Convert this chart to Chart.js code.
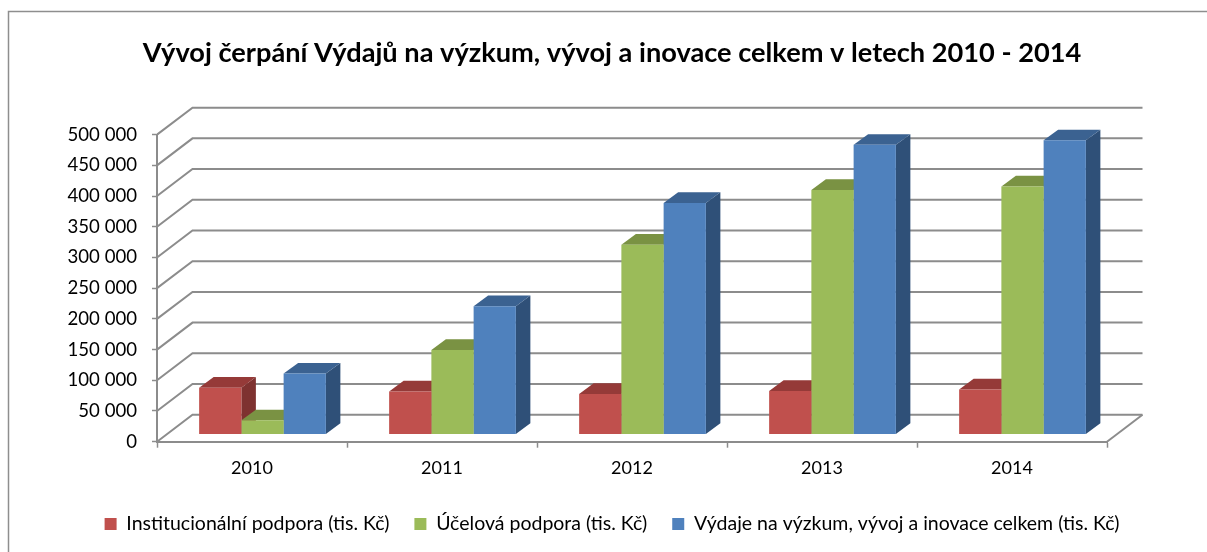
<!DOCTYPE html>
<html><head><meta charset="utf-8">
<style>html,body{margin:0;padding:0;background:#fff}canvas{display:block}</style>
<script src="https://cdn.jsdelivr.net/npm/chart.js@4"></script>
</head><body>
<div style="width:1207px;height:552px;position:relative"><canvas id="c" width="1207" height="552"></canvas></div>
<script>
const titleText = 'Vývoj čerpání Výdajů na výzkum, vývoj a inovace celkem v letech 2010 - 2014';
const categories = ['2010','2011','2012','2013','2014'];
const institucionalni = [76000,70000,65800,70700,73000];
const ucelova = [22900,137600,309000,398000,403700];
const celkem = [99000,208600,376700,471500,478800];
const seriesNames = ['Institucionální podpora (tis. Kč)','Účelová podpora (tis. Kč)','Výdaje na výzkum, vývoj a inovace celkem (tis. Kč)'];
const frontColors = ['#C0504D','#9BBB59','#4F81BD'];
const topColors = ['#953A38','#7A9243','#3B6291'];
const sideColors = ['#7E3230','#5F7A2E','#2F5078'];
const yTickLabels = ['0','50 000','100 000','150 000','200 000','250 000','300 000','350 000','400 000','450 000','500 000'];

const WALL = {dx:35.5, dy:-27};
const BAR = {dx:10.5, dy:-7.3};
const DEPTH = {dx:14.5, dy:-10.7};
const LINE = '#8C8C8C';

const wall3d = {
  id:'wall3d',
  beforeDraw(chart){
    const c = chart.ctx;
    c.save();
    c.strokeStyle='#8E8E8E'; c.lineWidth=1.5;
    c.beginPath();
    c.moveTo(8.5,552); c.lineTo(8.5,11.5); c.lineTo(1207,11.5);
    c.stroke();
    c.restore();
  },
  beforeDatasetsDraw(chart){
    const c = chart.ctx, y = chart.scales.y, a = chart.chartArea;
    c.save();
    c.strokeStyle=LINE; c.lineWidth=2;
    y.ticks.forEach(t=>{
      const p = y.getPixelForValue(t.value);
      c.beginPath();
      c.moveTo(a.left,p);
      c.lineTo(a.left+WALL.dx,p+WALL.dy);
      c.lineTo(a.right+WALL.dx,p+WALL.dy);
      c.stroke();
    });
    const b = y.getPixelForValue(0);
    c.beginPath();
    c.moveTo(a.right,b);
    c.lineTo(a.right+WALL.dx,b+WALL.dy);
    c.stroke();
    c.restore();

    c.save();
    c.translate(BAR.dx,BAR.dy);
    // side and top faces, left to right; the fronts go over them
    chart.getSortedVisibleDatasetMetas().forEach(meta=>{
      const i = meta.index;
      meta.data.forEach(el=>{
        const p = el.getProps(['x','y','base','width'],true);
        const l = p.x-p.width/2, r = p.x+p.width/2;
        c.fillStyle = sideColors[i];
        c.beginPath();
        c.moveTo(r,p.y); c.lineTo(r+DEPTH.dx,p.y+DEPTH.dy);
        c.lineTo(r+DEPTH.dx,p.base+DEPTH.dy); c.lineTo(r,p.base);
        c.closePath(); c.fill();
        c.fillStyle = topColors[i];
        c.beginPath();
        c.moveTo(l,p.y); c.lineTo(l+DEPTH.dx,p.y+DEPTH.dy);
        c.lineTo(r+DEPTH.dx,p.y+DEPTH.dy); c.lineTo(r,p.y);
        c.closePath(); c.fill();
      });
    });
  },
  afterDatasetsDraw(chart){ chart.ctx.restore(); }
};

const FONT = 'Lato, Carlito, Calibri, sans-serif';
new Chart(document.getElementById('c'),{
  type:'bar',
  plugins:[wall3d],
  data:{labels:categories,datasets:[institucionalni,ucelova,celkem].map((d,i)=>({
    label:seriesNames[i],data:d,backgroundColor:frontColors[i],borderWidth:0,
    categoryPercentage:0.667,barPercentage:1,clip:false
  }))},
  options:{
    responsive:false,animation:false,
    layout:{padding:{left:17,right:0,top:0,bottom:8.2}},
    plugins:{
      tooltip:{enabled:false},
      title:{display:true,text:titleText,color:'#000',font:{family:FONT,size:27.2,weight:'bold',lineHeight:1.2},padding:{top:37,bottom:65}},
      legend:{position:'bottom',labels:{color:'#000',font:{family:FONT,size:19.5},boxWidth:12,boxHeight:12,padding:25}}
    },
    scales:{
      x:{
        grid:{drawOnChartArea:false,drawTicks:true,tickLength:6,tickColor:LINE,tickWidth:1.5,offset:true},
        border:{color:LINE,width:2},
        ticks:{color:'#000',font:{family:FONT,size:18},padding:10,maxRotation:0}
      },
      y:{
        min:0,max:500000,
        afterFit(s){s.width=140;},
        grid:{drawOnChartArea:false,tickLength:5,tickColor:LINE,tickWidth:1.5},
        border:{color:LINE,width:2},
        ticks:{stepSize:50000,color:'#000',font:{family:FONT,size:18.6},padding:15,autoSkip:false,
          callback:v=>yTickLabels[Math.round(v/50000)]}
      },
      y2:{
        position:'right',display:true,afterFit(s){s.width=100;},
        grid:{display:false},border:{display:false},ticks:{display:false}
      }
    }
  }
});
</script>
</body></html>
